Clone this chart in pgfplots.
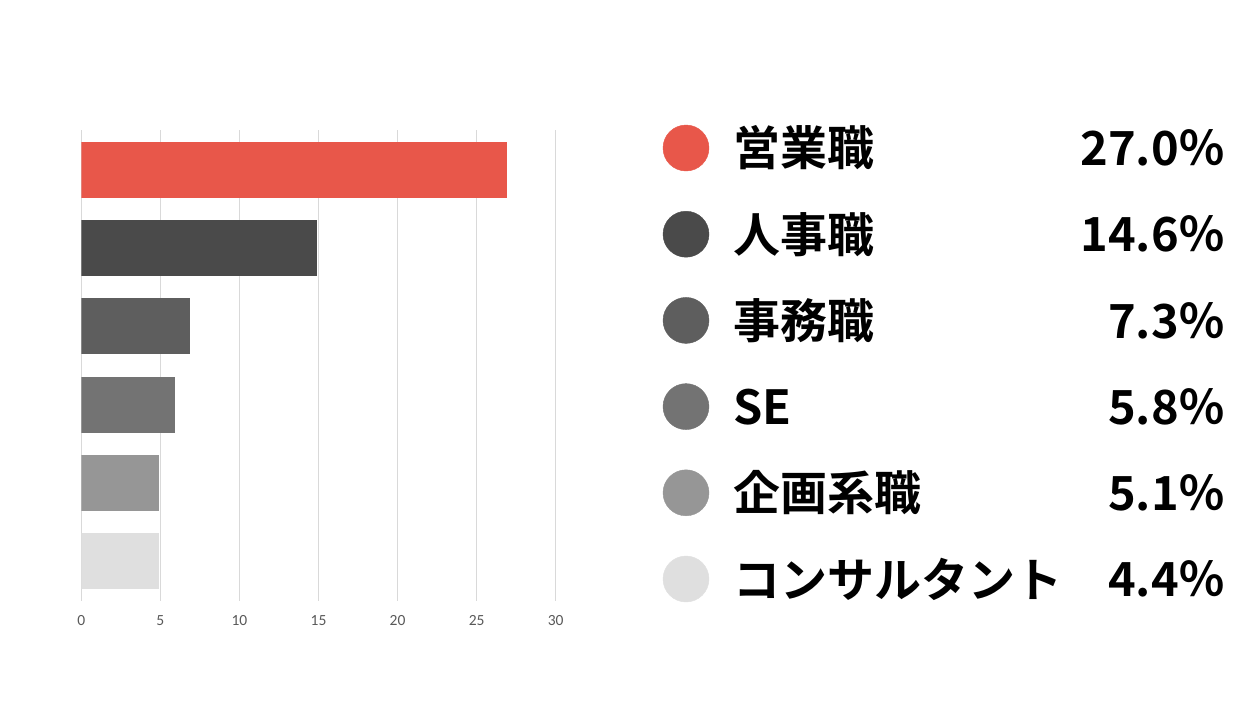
\documentclass[border=0pt]{standalone}
\usepackage{fontspec}
\usepackage{pgfplots}
\usepackage{pgfplotstable}
\pgfplotsset{compat=1.18}
\newfontfamily\cjk{Noto Sans CJK JP Bold}
\newfontfamily\tickfont{Carlito}
\definecolor{c1}{HTML}{E8574A}
\definecolor{c2}{HTML}{4A4A4A}
\definecolor{c3}{HTML}{5E5E5E}
\definecolor{c4}{HTML}{737373}
\definecolor{c5}{HTML}{969696}
\definecolor{c6}{HTML}{DFDFDF}
\definecolor{gridc}{HTML}{D9D9D9}
\definecolor{tickc}{HTML}{595959}

% row, bar length, label, share
\pgfplotstableread{
row val label pct
0 26.9 営業職 27.0％
1 14.9 人事職 14.6％
2 6.9 事務職 7.3％
3 5.9 SE 5.8％
4 4.9 企画系職 5.1％
5 4.9 コンサルタント 4.4％
}\jobtab

\begin{document}
\begin{tikzpicture}
\path[use as bounding box] (0,0) rectangle (1247pt,-718pt);

% bar chart
\begin{axis}[
    scale only axis,
    width=474.4pt, height=471pt,
    at={(81.3pt,-601pt)}, anchor=south west,
    xbar, bar width=56pt, bar shift=0pt,
    xmin=0, xmax=30,
    ymin=-0.51, ymax=5.51, y dir=reverse,
    xtick={0,5,...,30}, ytick=\empty,
    xmajorgrids,
    grid style={gridc, line width=1pt},
    axis line style={draw=none},
    major tick length=0pt,
    /pgf/number format/assume math mode=true,
    xticklabel style={font=\tickfont\fontsize{15.5}{15.5}\selectfont, text=tickc, yshift=-11pt},
    ]
\addplot[fill=c1, draw=none] coordinates {(26.9,0)};
\addplot[fill=c2, draw=none] coordinates {(14.9,1)};
\addplot[fill=c3, draw=none] coordinates {(6.9,2)};
\addplot[fill=c4, draw=none] coordinates {(5.9,3)};
\addplot[fill=c5, draw=none] coordinates {(4.9,4)};
\addplot[fill=c6, draw=none] coordinates {(4.9,5)};
\end{axis}

% legend with shares
\begin{axis}[
    scale only axis,
    width=540pt, height=431pt,
    at={(686pt,-579pt)}, anchor=south west,
    xmin=0, xmax=540, ymin=0, ymax=5, y dir=reverse,
    hide axis, clip=false,
    ]
\addplot[only marks, mark=*, mark size=23pt, c1] coordinates {(0,0)};
\addplot[only marks, mark=*, mark size=23pt, c2] coordinates {(0,1)};
\addplot[only marks, mark=*, mark size=23pt, c3] coordinates {(0,2)};
\addplot[only marks, mark=*, mark size=23pt, c4] coordinates {(0,3)};
\addplot[only marks, mark=*, mark size=23pt, c5] coordinates {(0,4)};
\addplot[only marks, mark=*, mark size=23pt, c6] coordinates {(0,5)};
\addplot[only marks, mark=none, nodes near coords, point meta=explicit symbolic,
    nodes near coords style={anchor=west, inner sep=0pt, text=black,
      font=\cjk\fontsize{47}{47}\selectfont}]
    table[x expr=47, y=row, meta=label] {\jobtab};
\addplot[only marks, mark=none, nodes near coords, point meta=explicit symbolic,
    nodes near coords style={anchor=east, inner sep=0pt, text=black,
      font=\cjk\fontsize{47}{47}\selectfont}]
    table[x expr=540, y=row, meta=pct] {\jobtab};
\end{axis}
\end{tikzpicture}
\end{document}
